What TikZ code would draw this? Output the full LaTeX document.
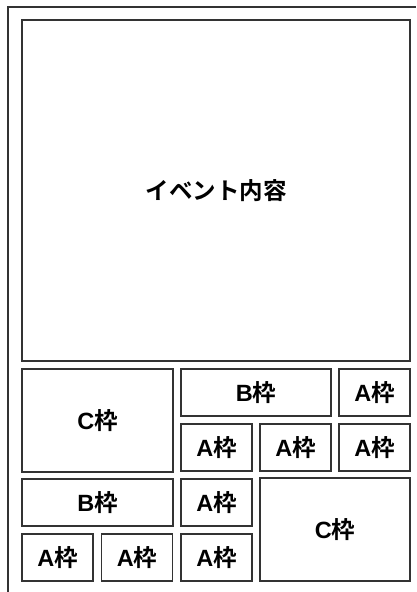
\documentclass[tikz,border=0pt]{standalone}
\usepackage{fontspec}
\setmainfont{Liberation Sans}
\newfontfamily\jp{Noto Sans CJK JP}[BoldFont={Noto Sans CJK JP Bold}]
\begin{document}
\begin{tikzpicture}[x=1pt,y=-1pt,
  frame/.style={draw=black!80,line width=1.4pt,inner sep=0pt,anchor=center,
    font=\fontsize{23.5}{26}\selectfont\bfseries},
  awaku/.style={frame,minimum width=71pt,minimum height=47pt}]
\useasboundingbox (0,0) rectangle (416,592);
\coordinate (ob) at (8,592);
\coordinate (oc) at (8,7);
\coordinate (or) at (416,7);
\draw[black!80,line width=1.4pt] (ob) -- (oc) -- (or);
\node[frame,minimum width=388pt,minimum height=341pt] (main) at (216,190.5) {\jp イベント内容};
\node[frame,minimum width=151pt,minimum height=103pt] (c1) at (97.5,420.5) {C\jp 枠};
\node[frame,minimum width=150pt,minimum height=47pt] (b1) at (256,392.5) {B\jp 枠};
\node[awaku] (a1) at (374.5,392.5) {A\jp 枠};
\node[awaku] (a2) at (216.5,447.5) {A\jp 枠};
\node[awaku] (a3) at (295.5,447.5) {A\jp 枠};
\node[awaku] (a4) at (374.5,447.5) {A\jp 枠};
\node[frame,minimum width=151pt,minimum height=47pt] (b2) at (97.5,502.5) {B\jp 枠};
\node[awaku] (a5) at (216.5,502.5) {A\jp 枠};
\node[frame,minimum width=150pt,minimum height=103pt] (c2) at (335,529.5) {C\jp 枠};
\node[awaku] (a6) at (57.5,557.5) {A\jp 枠};
\node[awaku] (a7) at (137,557.5) {A\jp 枠};
\node[awaku] (a8) at (216.5,557.5) {A\jp 枠};
\end{tikzpicture}
\end{document}
